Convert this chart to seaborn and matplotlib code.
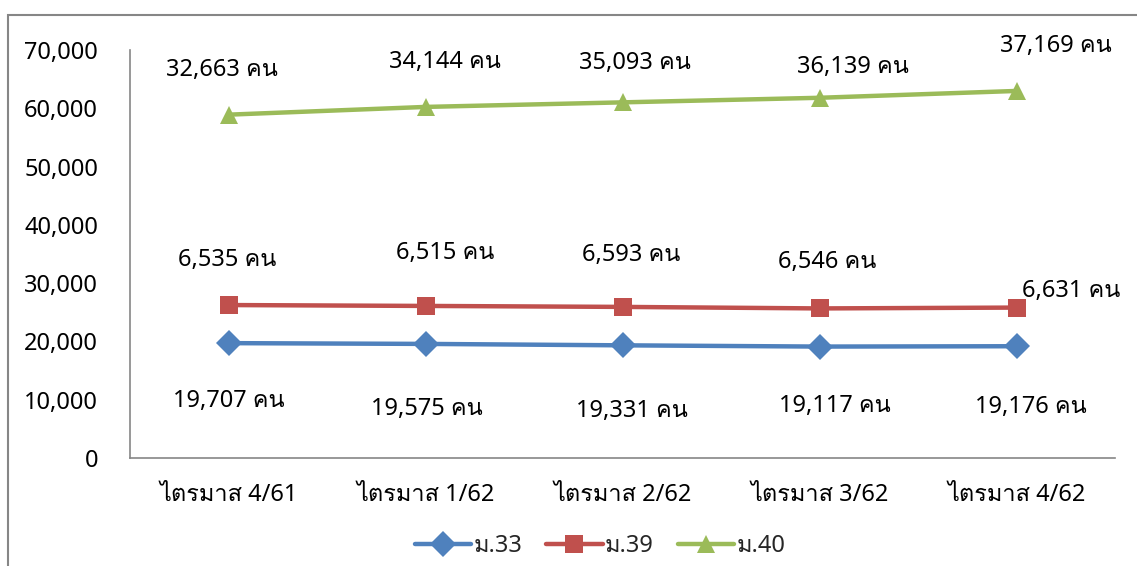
import matplotlib
matplotlib.use("Agg")
import matplotlib.pyplot as plt
import matplotlib.font_manager as fm
from matplotlib.patches import Rectangle
import numpy as np
import pandas as pd
import seaborn as sns

# quarters and head counts per section (stacked in the chart)
quarters = ["ไตรมาส 4/61", "ไตรมาส 1/62", "ไตรมาส 2/62", "ไตรมาส 3/62", "ไตรมาส 4/62"]
m33 = [19707, 19575, 19331, 19117, 19176]
m39 = [6535, 6515, 6593, 6546, 6631]
m40 = [32663, 34144, 35093, 36139, 37169]
series_names = ["ม.33", "ม.39", "ม.40"]

colors = {"ม.33": "#4F81BD", "ม.39": "#C0504D", "ม.40": "#9BBB59"}
markers = {"ม.33": "D", "ม.39": "s", "ม.40": "^"}

# label offsets in pixels (dx, dy), per series per point
label_offsets = {
    "ม.33": [(0, -58), (1, -65), (9, -66), (15, -59), (14, -61)],
    "ม.39": [(-1, 45), (20, 53), (9, 52), (8, 46), (55, 17)],
    "ม.40": [(-7, 45), (19, 45), (12, 39), (33, 31), (39, 45)],
}

# find a font that can draw Thai
thai_font = None
for f in fm.fontManager.ttflist:
    if "Thai" in f.name or "Loma" in f.name or "Garuda" in f.name or "Sarabun" in f.name:
        thai_font = f.name
        break

sns.set_style("white")
families = ["Noto Sans"] + ([thai_font] if thai_font else []) + ["DejaVu Sans"]
plt.rcParams["font.family"] = families

raw = {"ม.33": m33, "ม.39": m39, "ม.40": m40}
stacked = np.cumsum([raw[s] for s in series_names], axis=0)
rows = []
for i, s in enumerate(series_names):
    for j, q in enumerate(quarters):
        rows.append({"quarter": q, "series": s, "value": stacked[i][j], "raw": raw[s][j]})
df = pd.DataFrame(rows)

fig = plt.figure(figsize=(11.37, 5.66), dpi=100)
ax = fig.add_axes([130 / 1137, 108 / 566, 985 / 1137, 408 / 566])

sns.lineplot(data=df, x="quarter", y="value", hue="series", style="series",
             markers=markers, dashes=False, palette=colors, linewidth=3.2,
             markersize=13, markeredgewidth=0, ax=ax, sort=False)

for s in series_names:
    sub = df[df["series"] == s].reset_index(drop=True)
    for j in range(len(sub)):
        dx, dy = label_offsets[s][j]
        ax.annotate(f"{sub['raw'][j]:,} คน", (j, sub["value"][j]),
                    xytext=(dx, dy), textcoords="offset pixels",
                    ha="center", va="center", fontsize=17, color="black")

ax.set_xlim(-0.5, 4.5)
ax.set_ylim(0, 70000)
ax.set_yticks(range(0, 70001, 10000))
ax.yaxis.set_major_formatter(matplotlib.ticker.FuncFormatter(lambda v, p: f"{int(v):,}"))
ax.tick_params(axis="both", length=0, labelsize=17, colors="black")
ax.tick_params(axis="y", pad=23)
ax.tick_params(axis="x", pad=18)
ax.set_xlabel("")
ax.set_ylabel("")
for side in ["top", "right"]:
    ax.spines[side].set_visible(False)
for side in ["left", "bottom"]:
    ax.spines[side].set_color("#868686")
    ax.spines[side].set_linewidth(1.2)

ax.legend(loc="center", bbox_to_anchor=(600 / 1137, 20 / 566),
          bbox_transform=fig.transFigure, ncol=3, frameon=False,
          fontsize=17, handlelength=2.4, columnspacing=1.0, handletextpad=0.1,
          markerscale=1.0)

fig.patches.append(Rectangle((8 / 1137, -0.1), 1.2, (566 - 15) / 566 + 0.1,
                             transform=fig.transFigure, fill=False,
                             edgecolor="#868686", linewidth=1.5))

fig.savefig("out.png", dpi=100)
